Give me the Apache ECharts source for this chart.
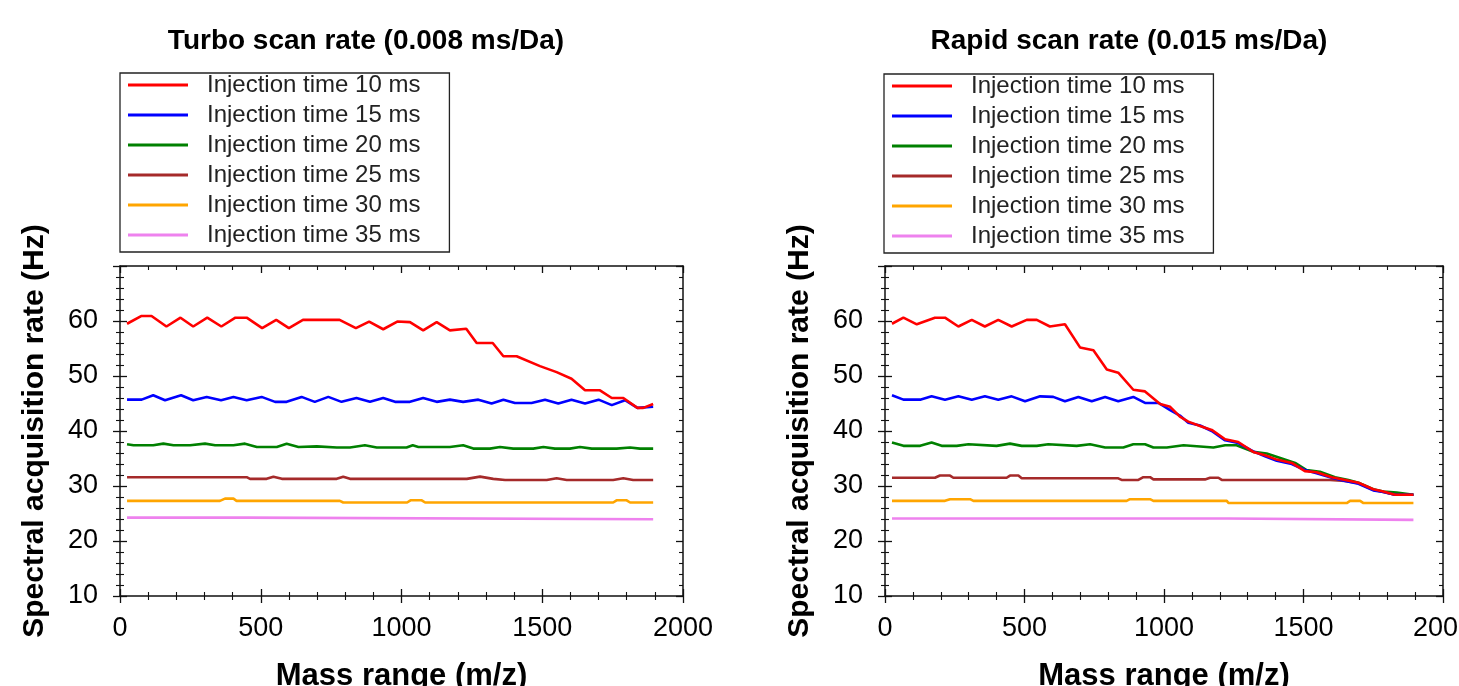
<!DOCTYPE html>
<html>
<head>
<meta charset="utf-8">
<script src="https://cdn.jsdelivr.net/npm/echarts@6/dist/echarts.min.js"></script>
<style>
html,body{margin:0;padding:0;background:#fff;}
#chart{width:1459px;height:686px;}
</style>
</head>
<body>
<div id="chart"></div>
<script>
// ---- Data (mass range m/z, spectral acquisition rate Hz) ----
const seriesNames = ['Injection time 10 ms','Injection time 15 ms','Injection time 20 ms','Injection time 25 ms','Injection time 30 ms','Injection time 35 ms'];
const seriesColors = ['#ff0000','#0000ff','#008000','#a52a2a','#ffa500','#ee82ee'];
const panelTitles = ['Turbo scan rate (0.008 ms/Da)','Rapid scan rate (0.015 ms/Da)'];
const xAxisTitle = 'Mass range (m/z)';
const yAxisTitle = 'Spectral acquisition rate (Hz)';

const turbo10 = [[25,59.5],[75,60.9],[112,60.9],[165,59.0],[215,60.6],[260,59.0],[310,60.6],[360,59.0],[410,60.6],[450,60.6],[505,58.7],[555,60.2],[600,58.7],[650,60.2],[780,60.2],[838,58.7],[885,59.9],[935,58.5],[985,59.9],[1030,59.8],[1077,58.3],[1125,59.8],[1172,58.3],[1230,58.6],[1267,56.0],[1324,56.0],[1362,53.6],[1409,53.6],[1492,51.8],[1551,50.7],[1604,49.5],[1652,47.4],[1705,47.4],[1747,46.0],[1788,46.0],[1838,44.2],[1859,44.2],[1894,44.9]];
const turbo15 = [[25,45.7],[77,45.7],[118,46.5],[160,45.6],[217,46.5],[260,45.6],[308,46.2],[359,45.6],[403,46.2],[450,45.6],[503,46.2],[551,45.3],[592,45.3],[645,46.2],[692,45.3],[740,46.2],[787,45.3],[840,46.0],[888,45.3],[935,46.0],[977,45.3],[1030,45.3],[1077,46.0],[1125,45.3],[1172,45.7],[1219,45.3],[1273,45.7],[1320,45.0],[1362,45.7],[1403,45.1],[1462,45.1],[1510,45.7],[1557,45.0],[1604,45.7],[1652,45.0],[1700,45.7],[1747,44.7],[1794,45.6],[1838,44.2],[1894,44.4]];
const turbo20 = [[25,37.6],[48,37.4],[118,37.4],[154,37.7],[190,37.4],[249,37.4],[302,37.7],[338,37.4],[403,37.4],[444,37.7],[486,37.1],[557,37.1],[592,37.7],[634,37.1],[699,37.2],[770,37.0],[817,37.0],[870,37.4],[912,37.0],[1018,37.0],[1040,37.4],[1060,37.1],[1172,37.1],[1219,37.4],[1255,36.8],[1314,36.8],[1350,37.1],[1397,36.8],[1468,36.8],[1504,37.1],[1545,36.8],[1598,36.8],[1634,37.1],[1676,36.8],[1764,36.8],[1812,37.0],[1847,36.8],[1894,36.8]];
const turbo25 = [[25,31.6],[450,31.6],[462,31.3],[521,31.3],[545,31.7],[575,31.3],[770,31.3],[793,31.7],[817,31.3],[1232,31.3],[1279,31.7],[1326,31.3],[1368,31.1],[1516,31.1],[1551,31.4],[1587,31.1],[1752,31.1],[1788,31.4],[1823,31.1],[1894,31.1]];
const turbo30 = [[25,27.3],[355,27.3],[373,27.7],[403,27.7],[414,27.3],[781,27.3],[793,27.0],[1020,27.0],[1032,27.4],[1072,27.4],[1084,27.0],[1752,27.0],[1764,27.4],[1800,27.4],[1812,27.0],[1894,27.0]];
const turbo35 = [[25,24.25],[450,24.25],[456,23.95],[1894,23.95]];

const rapid10 = [[25,59.5],[66,60.6],[114,59.4],[179,60.6],[215,60.6],[263,59.0],[311,60.2],[358,59.0],[406,60.2],[454,59.0],[508,60.2],[544,60.2],[591,59.0],[645,59.4],[699,55.2],[747,54.7],[795,51.2],[836,50.6],[890,47.5],[932,47.2],[986,44.9],[1022,44.4],[1057,42.6],[1087,41.7],[1129,40.9],[1171,40.2],[1219,38.5],[1266,38.0],[1320,36.2],[1362,35.6],[1404,34.8],[1458,34.2],[1505,32.7],[1547,32.5],[1601,31.6],[1649,31.1],[1697,30.6],[1750,29.4],[1786,29.0],[1828,28.4],[1894,28.4]];
const rapid15 = [[25,46.5],[66,45.7],[126,45.7],[167,46.3],[215,45.7],[263,46.3],[311,45.7],[358,46.3],[406,45.7],[454,46.3],[502,45.4],[556,46.3],[603,46.2],[645,45.4],[693,46.2],[741,45.4],[789,46.2],[836,45.4],[890,46.2],[932,45.1],[980,45.1],[1022,43.8],[1057,42.8],[1087,41.5],[1129,41.0],[1171,40.0],[1219,38.3],[1266,37.8],[1320,36.3],[1362,35.4],[1404,34.6],[1458,34.0],[1505,32.9],[1547,32.3],[1601,31.5],[1649,30.9],[1697,30.4],[1750,29.2],[1786,28.9],[1828,28.4],[1894,28.4]];
const rapid20 = [[25,37.9],[66,37.3],[126,37.3],[167,37.9],[203,37.3],[257,37.3],[299,37.6],[400,37.3],[448,37.7],[490,37.3],[544,37.3],[585,37.6],[687,37.3],[735,37.6],[789,37.0],[854,37.0],[890,37.6],[932,37.6],[962,37.0],[1010,37.0],[1070,37.4],[1177,37.0],[1219,37.4],[1260,37.4],[1320,36.2],[1368,35.9],[1422,35.0],[1470,34.2],[1511,32.9],[1559,32.6],[1613,31.6],[1661,31.1],[1697,30.6],[1750,29.4],[1786,29.0],[1834,28.8],[1894,28.4]];
const rapid25 = [[25,31.5],[179,31.5],[197,31.9],[233,31.9],[245,31.5],[436,31.5],[448,31.9],[478,31.9],[490,31.4],[836,31.4],[848,31.1],[908,31.1],[926,31.6],[950,31.6],[962,31.2],[1147,31.2],[1165,31.5],[1195,31.5],[1207,31.1],[1595,31.1],[1649,30.9],[1697,30.5],[1750,29.3],[1786,28.9],[1828,28.4],[1894,28.4]];
const rapid30 = [[25,27.3],[215,27.3],[233,27.6],[305,27.6],[317,27.3],[866,27.3],[878,27.6],[950,27.6],[962,27.3],[1225,27.3],[1231,26.9],[1655,26.9],[1667,27.3],[1703,27.3],[1715,26.9],[1894,26.9]];
const rapid35 = [[25,24.1],[1225,24.1],[1231,23.85],[1894,23.85]];

const panels = [
  [turbo10, turbo15, turbo20, turbo25, turbo30, turbo35],
  [rapid10, rapid15, rapid20, rapid25, rapid30, rapid35]
];

// ---- Layout ----
const FONT = "'Liberation Sans', Arial, Helvetica, sans-serif";
const gridBoxes = [
  {left: 120, top: 266, width: 563, height: 330, titleX: 366, legendLeft: 120, legendTop: 73},
  {left: 885, top: 266, width: 558, height: 330, titleX: 1129, legendLeft: 884, legendTop: 74}
];
const X_MIN = 0, X_MAX = 2000, X_INT = 500;
const Y_MIN = 10, Y_MAX = 70, Y_INT = 10;

const AXIS_COLOR = '#111';
const grids = [], xAxes = [], yAxes = [], series = [], legends = [], graphics = [];

function tickCfg(inside, len, minorLen) {
  return {
    axisTick: {show: true, inside: inside, length: len, lineStyle: {color: AXIS_COLOR, width: 1.3}},
    minorTick: {show: true, splitNumber: 5, length: minorLen, lineStyle: {color: AXIS_COLOR, width: 1.1}}
  };
}

gridBoxes.forEach((g, gi) => {
  grids.push({left: g.left, top: g.top, width: g.width, height: g.height, containLabel: false, outerBoundsMode: 'none', show: false});
  const baseX = {type: 'value', gridIndex: gi, min: X_MIN, max: X_MAX, interval: X_INT, splitLine: {show: false}};
  const baseY = {type: 'value', gridIndex: gi, min: Y_MIN, max: Y_MAX, interval: Y_INT, splitLine: {show: false}};
  const xMainIndex = xAxes.length;
  // bottom, labelled, outward ticks
  xAxes.push(Object.assign({}, baseX, tickCfg(false, 7, 4), {
    position: 'bottom',
    axisLine: {show: true, onZero: false, lineStyle: {color: AXIS_COLOR, width: 1.5}},
    axisLabel: {show: true, margin: 19, color: '#000', fontSize: 27, fontFamily: FONT, formatter: v => String(v)},
    name: xAxisTitle, nameLocation: 'middle', nameGap: 65,
    nameTextStyle: {fontSize: 31, fontWeight: 'bold', color: '#000', fontFamily: FONT}
  }));
  // bottom, inward ticks
  xAxes.push(Object.assign({}, baseX, tickCfg(true, 7, 4), {
    position: 'bottom', axisLine: {show: false, onZero: false}, axisLabel: {show: false}
  }));
  // top border, inward ticks
  xAxes.push(Object.assign({}, baseX, tickCfg(true, 7, 4), {
    position: 'top', axisLine: {show: true, onZero: false, lineStyle: {color: AXIS_COLOR, width: 1.5}}, axisLabel: {show: false}
  }));
  const yMainIndex = yAxes.length;
  yAxes.push(Object.assign({}, baseY, tickCfg(false, 7, 4), {
    position: 'left',
    axisLine: {show: true, onZero: false, lineStyle: {color: AXIS_COLOR, width: 1.5}},
    axisLabel: {show: true, margin: 22, color: '#000', fontSize: 27, fontFamily: FONT,
      formatter: v => (v >= Y_MAX ? '' : String(v))},
    name: yAxisTitle, nameLocation: 'middle', nameGap: 70, nameRotate: 90,
    nameTextStyle: {fontSize: 30, fontWeight: 'bold', color: '#000', fontFamily: FONT}
  }));
  yAxes.push(Object.assign({}, baseY, tickCfg(true, 7, 4), {
    position: 'left', axisLine: {show: false, onZero: false}, axisLabel: {show: false}
  }));
  yAxes.push(Object.assign({}, baseY, tickCfg(true, 7, 4), {
    position: 'right', axisLine: {show: true, onZero: false, lineStyle: {color: AXIS_COLOR, width: 1.5}}, axisLabel: {show: false}
  }));

  // series drawn in reverse order so the 10 ms line sits on top
  for (let si = seriesNames.length - 1; si >= 0; si--) {
    series.push({
      type: 'line', name: seriesNames[si], xAxisIndex: xMainIndex, yAxisIndex: yMainIndex,
      data: panels[gi][si], showSymbol: false, symbol: 'none',
      lineStyle: {color: seriesColors[si], width: 2.6}, itemStyle: {color: seriesColors[si]},
      z: 3, animation: false, silent: true
    });
  }

  legends.push({
    orient: 'vertical', left: g.legendLeft, top: g.legendTop,
    data: seriesNames.map(n => ({name: n, icon: 'rect'})),
    itemWidth: 60, itemHeight: 3, itemGap: 6,
    selectedMode: false,
    padding: [0, 29, 5, 8],
    borderColor: '#222', borderWidth: 1.3, backgroundColor: '#fff',
    textStyle: {fontSize: 24, lineHeight: 24, color: '#222', fontFamily: FONT, padding: [0, 0, 0, 14]}
  });

  graphics.push({
    type: 'text', x: g.titleX, y: 41,
    style: {text: panelTitles[gi], fill: '#000', font: 'bold 28px ' + FONT, align: 'center', verticalAlign: 'middle'}
  });
});

const chart = echarts.init(document.getElementById('chart'), null, {renderer: 'canvas'});
chart.setOption({
  animation: false,
  backgroundColor: '#fff',
  grid: grids,
  xAxis: xAxes,
  yAxis: yAxes,
  legend: legends,
  series: series,
  graphic: graphics
});
</script>
</body>
</html>
